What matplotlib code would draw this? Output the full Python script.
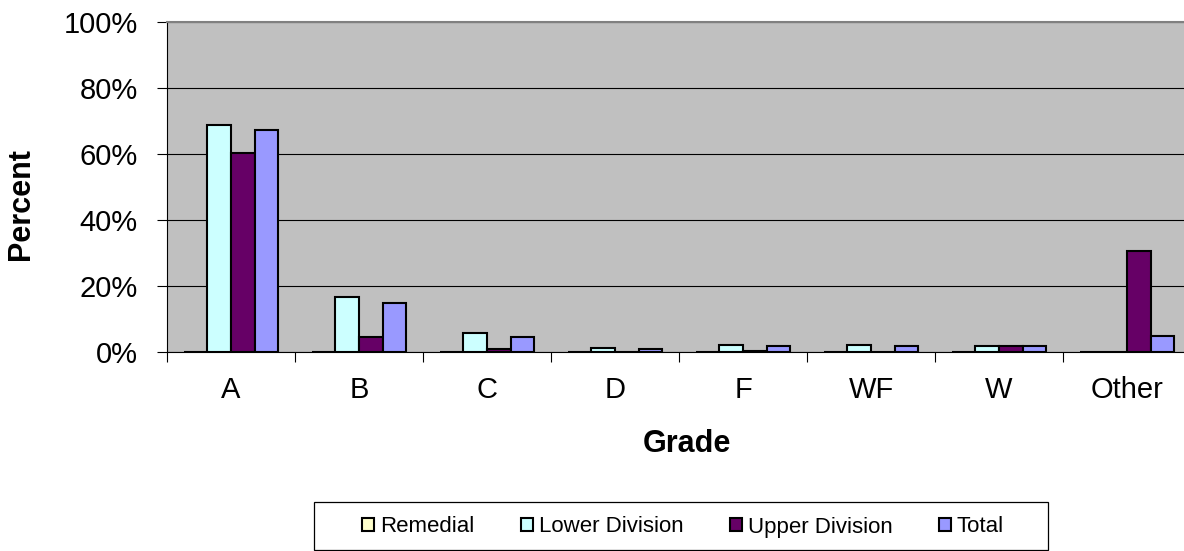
import matplotlib
matplotlib.use("Agg")
import matplotlib.pyplot as plt
from matplotlib.patches import Patch, Rectangle
import numpy as np

plt.rcParams['font.family'] = ['Liberation Sans', 'DejaVu Sans']

grades = ["A", "B", "C", "D", "F", "WF", "W", "Other"]
series_names = ["Remedial", "Lower Division", "Upper Division", "Total"]
remedial = [0, 0, 0, 0, 0, 0, 0, 0]
lower_division = [68.9, 16.8, 5.7, 1.4, 2.1, 2.3, 1.9, 0.2]
upper_division = [60.2, 4.5, 1.0, 0.0, 0.5, 0.0, 1.9, 30.7]
total = [67.3, 14.8, 4.7, 1.1, 1.8, 1.8, 1.9, 5.0]
y_ticks = [0, 20, 40, 60, 80, 100]
y_tick_labels = ["0%", "20%", "40%", "60%", "80%", "100%"]

colors = ["#FFFFCC", "#CCFFFF", "#660066", "#9999FF"]

W, H = 1184, 551
fig = plt.figure(figsize=(W / 100, H / 100), dpi=100)
ax = fig.add_axes([167 / W, 1 - 352.3 / H, 1024 / W, 330.5 / H])
ax.set_facecolor("#C0C0C0")

x = np.arange(len(grades))
bw = 0.1836
data = [remedial, lower_division, upper_division, total]
for i, (vals, c) in enumerate(zip(data, colors)):
    ax.bar(x + (i - 1.5) * bw, vals, width=bw, color=c, edgecolor="black",
           linewidth=1.5, zorder=3)

ax.set_xlim(-0.5, len(grades) - 0.5)
ax.set_ylim(0, 100)
ax.set_yticks(y_ticks)
ax.set_yticklabels(y_tick_labels, fontsize=21)
ax.yaxis.grid(True, color="black", linewidth=0.8, zorder=1)
ax.set_axisbelow(True)

ax.set_xticks(x)
ax.set_xticklabels(grades, fontsize=21)
ax.set_xticks(np.arange(-0.5, len(grades) + 0.5, 1), minor=True)
ax.tick_params(axis="x", which="major", length=0, pad=17)
ax.tick_params(axis="x", which="minor", length=7, width=0.8, direction="out", color="black")
ax.tick_params(axis="y", which="major", length=7, width=0.8, direction="out", pad=14)

for s in ["left", "bottom"]:
    ax.spines[s].set_color("black")
    ax.spines[s].set_linewidth(0.8)
for s in ["top", "right"]:
    ax.spines[s].set_color("#808080")
    ax.spines[s].set_linewidth(1.5)

fig.text(21 / W, 1 - 204 / H, "Percent", rotation=90, fontsize=22, fontweight="bold",
         ha="center", va="center")
fig.text(687 / W, 1 - 444 / H, "Grade", fontsize=22, fontweight="bold",
         ha="center", va="center")

# legend
handles = [Patch(facecolor=c, edgecolor="black", linewidth=1.5) for c in colors]
leg = fig.legend(handles, series_names, loc="center", bbox_to_anchor=(683 / W, 1 - 527 / H),
                 ncol=4, fontsize=16, frameon=False, handlelength=0.55, handleheight=0.55,
                 handletextpad=0.25, columnspacing=2.1, borderpad=0.3)
fig.patches.append(Rectangle((314 / W, 1 - 550 / H), (1048 - 314) / W, (550 - 502) / H,
                             transform=fig.transFigure, facecolor="none",
                             edgecolor="black", linewidth=0.9))

fig.savefig("out.png", dpi=100)
